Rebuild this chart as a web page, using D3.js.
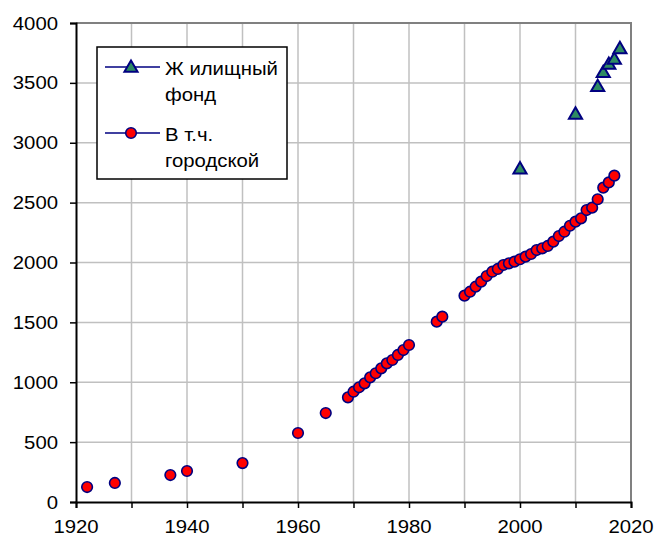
<!DOCTYPE html>
<html>
<head>
<meta charset="utf-8">
<script src="https://cdn.jsdelivr.net/npm/d3@7"></script>
<style>
  body { margin: 0; background: #fff; }
  svg { display: block; }
  text { font-family: "Liberation Sans", Arial, sans-serif; fill: #000; }
</style>
</head>
<body>
<div id="container"></div>
<script>
const W = 656, H = 537;

// жилищный фонд
const houseYears = [2000, 2010, 2014, 2015, 2016, 2017, 2018];
const houseVals = [2775, 3232, 3463, 3580, 3649, 3691, 3780];

// в т.ч. городской
const cityYears = [1922, 1927, 1937, 1940, 1950, 1960, 1965,
  1969, 1970, 1971, 1972, 1973, 1974, 1975, 1976, 1977, 1978, 1979, 1980,
  1985, 1986,
  1990, 1991, 1992, 1993, 1994, 1995, 1996, 1997, 1998, 1999,
  2000, 2001, 2002, 2003, 2004, 2005, 2006, 2007, 2008, 2009,
  2010, 2011, 2012, 2013, 2014, 2015, 2016, 2017];
const cityVals = [125, 159, 225, 259, 325, 576, 743,
  874, 921, 958, 991, 1041, 1075, 1116, 1158, 1186, 1228, 1269, 1311,
  1506, 1548,
  1723, 1756, 1798, 1840, 1887, 1923, 1946, 1979, 1993, 2007,
  2027, 2049, 2071, 2104, 2118, 2138, 2174, 2221, 2257, 2307,
  2341, 2369, 2438, 2458, 2528, 2625, 2669, 2725];

const xTicks = [1920, 1940, 1960, 1980, 2000, 2020];
const yTicks = [0, 500, 1000, 1500, 2000, 2500, 3000, 3500, 4000];
const legendNames = [["Ж илищный", "фонд"], ["В т.ч.", "городской"]];

const X1 = 76, X2 = 631, Y1 = 23, Y2 = 502;
const SX = 1.13; // текст в оригинале немного растянут по горизонтали

const svg = d3.select("#container").append("svg")
  .attr("width", W).attr("height", H);

const x = d3.scaleLinear().domain([1920, 2020]).range([X1, X2]);
const y = d3.scaleLinear().domain([0, 4000]).range([Y2, Y1]);

// сетка
const grid = svg.append("g");
grid.selectAll("line.v").data(d3.range(1930, 2020, 10)).enter().append("line")
  .attr("x1", d => x(d)).attr("x2", d => x(d))
  .attr("y1", Y1).attr("y2", Y2)
  .attr("stroke", "#c0c0c0").attr("stroke-width", 1.5);
grid.selectAll("line.h").data(yTicks.slice(1, -1)).enter().append("line")
  .attr("x1", X1).attr("x2", X2)
  .attr("y1", d => y(d)).attr("y2", d => y(d))
  .attr("stroke", "#c0c0c0").attr("stroke-width", 1.5);

// рамка сверху и справа
svg.append("path")
  .attr("d", `M${X1},${Y1}H${X2}V${Y2}`)
  .attr("fill", "none").attr("stroke", "#808080").attr("stroke-width", 2);

// оси
const xAxis = svg.append("g").attr("transform", `translate(0,${Y2})`)
  .call(d3.axisBottom(x).tickValues(d3.range(1920, 2021, 10)).tickSize(6).tickFormat(""));
const yAxis = svg.append("g").attr("transform", `translate(${X1},0)`)
  .call(d3.axisLeft(y).tickValues(yTicks).tickSize(6).tickFormat(""));
[xAxis, yAxis].forEach(a => {
  a.select(".domain").attr("stroke", "#000").attr("stroke-width", 2);
  a.selectAll(".tick line").attr("stroke", "#000").attr("stroke-width", 1.5);
});

// подписи осей
svg.selectAll("text.xl").data(xTicks).enter().append("text")
  .attr("text-anchor", "middle")
  .attr("font-size", 18)
  .attr("transform", d => `translate(${x(d)},533) scale(${SX},1)`)
  .text(d => d);
svg.selectAll("text.yl").data(yTicks).enter().append("text")
  .attr("text-anchor", "end")
  .attr("font-size", 18)
  .attr("transform", d => `translate(58,${y(d) + 6.5}) scale(${SX},1)`)
  .text(d => d);

const tri = d3.symbol().type(d3.symbolTriangle).size(75);

function triangle(g, cx, cy) {
  g.append("path").attr("d", tri())
    .attr("transform", `translate(${cx},${cy})`)
    .attr("fill", "#2e8b62").attr("stroke", "#000080").attr("stroke-width", 2);
}
function circle(g, cx, cy) {
  g.append("circle").attr("cx", cx).attr("cy", cy).attr("r", 5.3)
    .attr("fill", "#ff0000").attr("stroke", "#000080").attr("stroke-width", 1.6);
}

// точки
const pts = svg.append("g");
cityYears.forEach((yr, i) => circle(pts, x(yr), y(cityVals[i])));
houseYears.forEach((yr, i) => triangle(pts, x(yr), y(houseVals[i])));

// легенда
const lg = svg.append("g");
lg.append("rect").attr("x", 97).attr("y", 47).attr("width", 190).attr("height", 132)
  .attr("fill", "#fff").attr("stroke", "#000").attr("stroke-width", 1.5);
const rows = [67, 133];
rows.forEach((ry, i) => {
  lg.append("line").attr("x1", 105).attr("x2", 160).attr("y1", ry).attr("y2", ry)
    .attr("stroke", "#000080").attr("stroke-width", 1.5);
  if (i === 0) triangle(lg, 131, ry + 1); else circle(lg, 131, ry);
  legendNames[i].forEach((s, k) => {
    lg.append("text").attr("font-size", 18)
      .attr("transform", `translate(165,${ry + 8 + k * 25.5}) scale(${SX},1)`)
      .text(s);
  });
});
</script>
</body>
</html>
